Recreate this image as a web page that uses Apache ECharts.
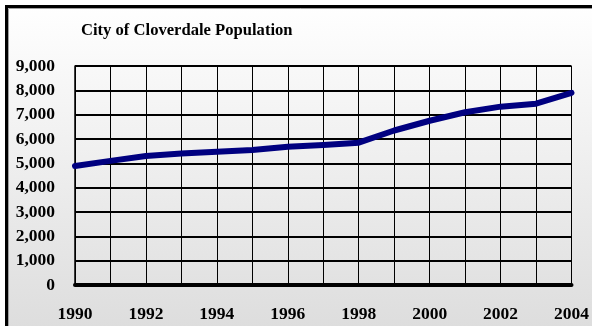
<!DOCTYPE html>
<html>
<head>
<meta charset="utf-8">
<script src="https://cdn.jsdelivr.net/npm/echarts@6/dist/echarts.min.js"></script>
<style>
html,body{margin:0;padding:0;background:#fff;}
#chart{width:592px;height:326px;}
</style>
</head>
<body>
<div id="chart"></div>
<script>
// Population of Cloverdale by year
const years = ['1990','1991','1992','1993','1994','1995','1996','1997','1998','1999','2000','2001','2002','2003','2004'];
const population = [4890, 5100, 5300, 5400, 5480, 5550, 5680, 5750, 5850, 6350, 6750, 7100, 7330, 7450, 7900];
const titleText = 'City of Cloverdale Population';

const serif = '"Liberation Serif", "DejaVu Serif", serif';
const chart = echarts.init(document.getElementById('chart'));

chart.setOption({
  animation: false,
  backgroundColor: '#fff',
  graphic: [
    {
      type: 'rect',
      z: -10,
      shape: { x: 6.5, y: 6.5, width: 620, height: 360 },
      style: {
        fill: new echarts.graphic.LinearGradient(0, 0, 0, 1, [
          { offset: 0, color: '#ffffff' },
          { offset: 1, color: '#d9d9d9' }
        ]),
        stroke: '#000',
        lineWidth: 3
      }
    },
    {
      type: 'polyline',
      z: -9,
      shape: { points: [[8.5, 400], [8.5, 8.5], [620, 8.5]] },
      style: { stroke: '#a0a0a0', lineWidth: 1, fill: null }
    }
  ],
  title: {
    text: titleText,
    left: 76,
    top: 17,
    textStyle: { fontFamily: serif, fontWeight: 'bold', fontSize: 16.6, color: '#000' }
  },
  grid: { left: 75, right: 20, top: 66, bottom: 41 },
  xAxis: {
    type: 'category',
    data: years,
    boundaryGap: false,
    axisLine: { lineStyle: { color: '#000', width: 4 } },
    axisTick: { show: false },
    axisLabel: {
      interval: 1,
      margin: 20,
      fontFamily: serif, fontWeight: 'bold', fontSize: 17.5, color: '#000'
    },
    splitLine: { show: true, interval: 0, lineStyle: { color: '#000', width: 1 } }
  },
  yAxis: {
    type: 'value',
    min: 0,
    max: 9000,
    interval: 1000,
    axisLine: { show: true, lineStyle: { color: '#000', width: 1.5 } },
    axisTick: { show: false },
    axisLabel: {
      margin: 20,
      fontFamily: serif, fontWeight: 'bold', fontSize: 17.5, color: '#000',
      formatter: v => v.toLocaleString('en-US')
    },
    splitLine: { show: true, lineStyle: { color: '#000', width: 2 } }
  },
  series: [{
    type: 'line',
    data: population,
    symbol: 'none',
    lineStyle: { color: '#000080', width: 6, cap: 'round', join: 'round' },
    z: 5
  }]
});
</script>
</body>
</html>
